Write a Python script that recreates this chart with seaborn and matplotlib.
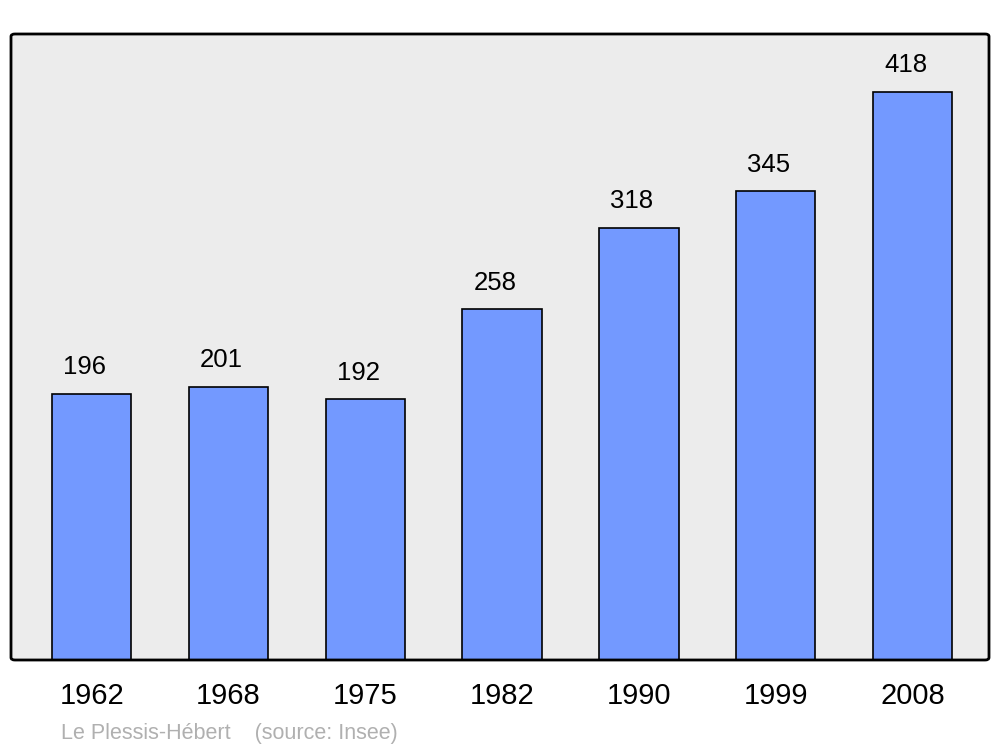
import matplotlib
matplotlib.use("Agg")
import matplotlib.pyplot as plt
from matplotlib.patches import FancyBboxPatch
import seaborn as sns
import pandas as pd

# data
years = ["1962", "1968", "1975", "1982", "1990", "1999", "2008"]
population = [196, 201, 192, 258, 318, 345, 418]
commune = "Le Plessis-Hébert"
source = "(source: Insee)"

sns.set_theme(style="white")
plt.rcParams['font.family'] = ['Liberation Sans', 'DejaVu Sans']

df = pd.DataFrame({"year": years, "pop": population})

fig = plt.figure(figsize=(10, 7.47), dpi=100)
ax = fig.add_axes([0.011, 1 - 660 / 747, 0.978, (660 - 34) / 747])
ax.set_facecolor("#ececec")

sns.barplot(data=df, x="year", y="pop", color="#7399ff", saturation=1,
            width=0.58, edgecolor="black", linewidth=1.2, ax=ax)

ax.set_xlim(-0.59, 6.56)
ax.set_ylim(0, 460.6)

# value labels above bars
for i, v in enumerate(population):
    ax.text(i - 0.05, v + 19.5, str(v), ha="center", va="center",
            fontsize=18.5, color="black")

ax.set_yticks([])
ax.set_xlabel("")
ax.set_ylabel("")
ax.tick_params(axis="x", length=0, labelsize=21, pad=16, labelcolor="black")
for s in ax.spines.values():
    s.set_visible(False)

# rounded frame
frame = FancyBboxPatch((0, 0), 1, 1, boxstyle="round,pad=0,rounding_size=0.004",
                       transform=ax.transAxes, fill=False, edgecolor="black",
                       linewidth=2, clip_on=False, zorder=5)
ax.add_patch(frame)

fig.text(0.061, 1 - 733 / 747, commune + "    " + source, fontsize=15.5,
         color="#b0b0b0", va="center", ha="left")

fig.savefig("out.png", dpi=100)
